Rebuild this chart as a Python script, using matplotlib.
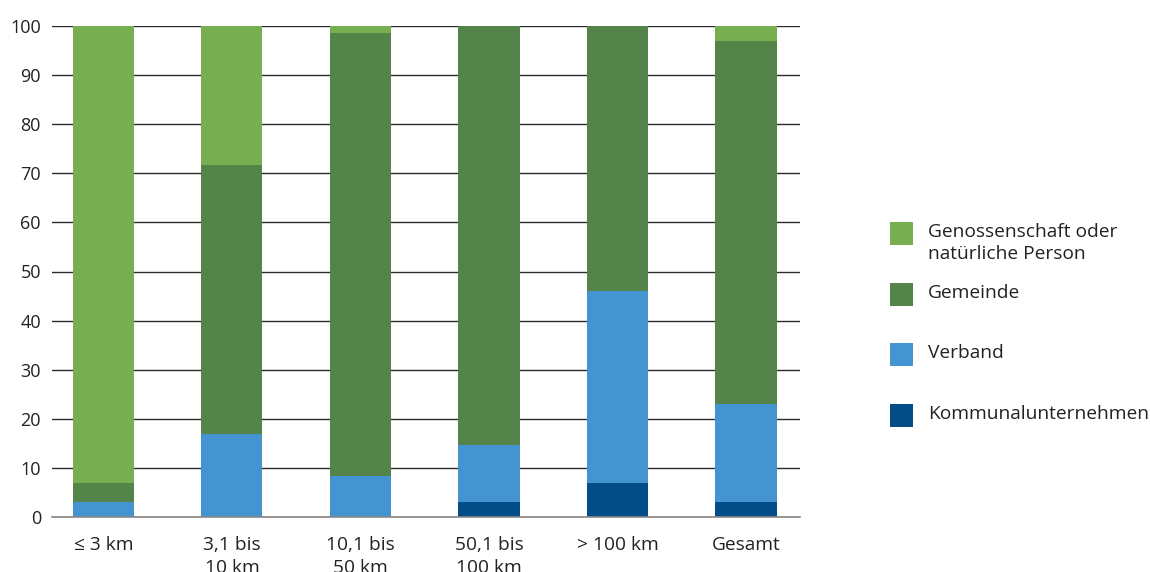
import matplotlib
matplotlib.use("Agg")
import matplotlib.pyplot as plt
from matplotlib.patches import Rectangle
import numpy as np

plt.rcParams['font.family'] = ['Open Sans', 'DejaVu Sans']

categories = ["≤ 3 km", "3,1 bis\n10 km", "10,1 bis\n50 km", "50,1 bis\n100 km", "> 100 km", "Gesamt"]
kommunal = [0.0, 0.0, 0.0, 3.1, 7.0, 3.1]
verband = [3.1, 17.0, 8.4, 11.5, 39.0, 20.0]
gemeinde = [3.9, 54.6, 90.2, 85.4, 54.0, 73.9]
genossenschaft = [93.0, 28.4, 1.4, 0.0, 0.0, 3.0]

series_names = ["Genossenschaft oder\nnatürliche Person", "Gemeinde", "Verband", "Kommunalunternehmen"]
colors = {"Kommunalunternehmen": "#024C88", "Verband": "#4394D0",
          "Gemeinde": "#55844A", "Genossenschaft oder\nnatürliche Person": "#76AE50"}

W, H = 1150, 572
fig = plt.figure(figsize=(W / 100, H / 100), dpi=100)
ax = fig.add_axes([52 / W, 1 - 517 / H, (800 - 52) / W, (517 - 26) / H])

x = np.arange(len(categories))
width = 0.475
bottom = np.zeros(len(categories))
stack = [("Kommunalunternehmen", kommunal), ("Verband", verband),
         ("Gemeinde", gemeinde), ("Genossenschaft oder\nnatürliche Person", genossenschaft)]
for name, vals in stack:
    v = np.array(vals)
    ax.bar(x, v, width, bottom=bottom, color=colors[name], zorder=3, linewidth=0)
    bottom += v

ax.set_xlim(-0.4, 5.42)
ax.set_ylim(0, 100)
ax.set_yticks(range(0, 101, 10))
ax.yaxis.grid(True, color="#2a2a2a", linewidth=1.0, zorder=1)
for s in ["top", "right", "left"]:
    ax.spines[s].set_visible(False)
ax.spines["bottom"].set_color("#888888")
ax.spines["bottom"].set_linewidth(1.2)
ax.spines["bottom"].set_zorder(4)
ax.tick_params(axis="both", length=0, labelcolor="#222222")
ax.tick_params(axis="y", pad=8, labelsize=13)
ax.tick_params(axis="x", pad=14, labelsize=13.8)
ax.set_xticks(x)
ax.set_xticklabels(categories, linespacing=1.3)

# legend (manual placement)
legend_rows = [222, 283, 343, 404]
for name, ytop in zip(series_names, legend_rows):
    fig.add_artist(Rectangle((890 / W, 1 - (ytop + 23) / H), 23 / W, 23 / H,
                             transform=fig.transFigure, color=colors[name], linewidth=0))
    fig.text(928 / W, 1 - (ytop + 1) / H, name, fontsize=13.8, color="#222222",
             va="top", ha="left", linespacing=1.3)

fig.savefig("out.png", dpi=100)
